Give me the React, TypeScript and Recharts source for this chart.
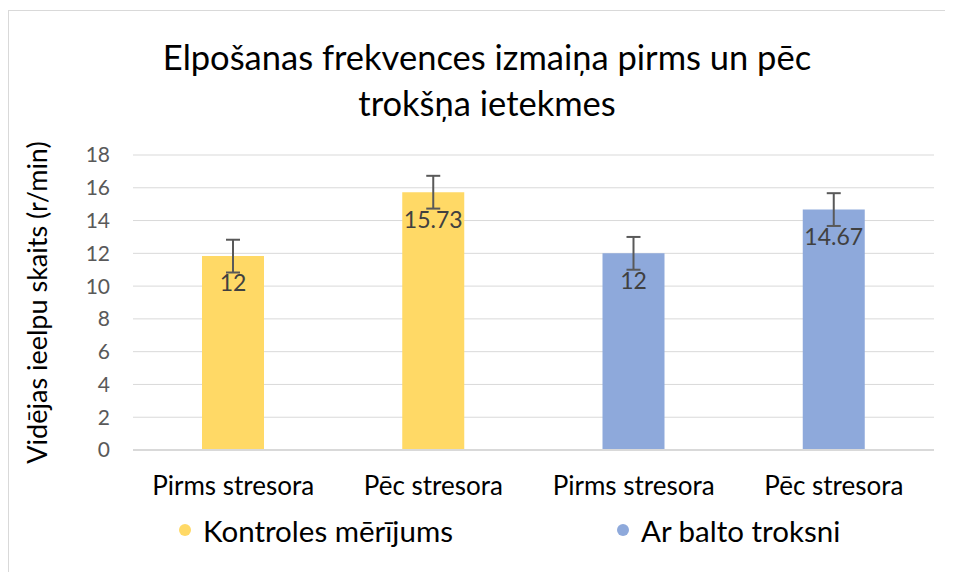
import { BarChart, Bar, XAxis, YAxis, CartesianGrid, ErrorBar, LabelList, Legend, Cell } from 'recharts';

const categories = ['Pirms stresora', 'Pēc stresora', 'Pirms stresora', 'Pēc stresora'];
const values = [11.83, 15.73, 12, 14.67];
const valueLabels = ['12', '15.73', '12', '14.67'];
const errors = [1, 1, 1, 1];
const groups = [0, 0, 1, 1];
const seriesNames = ['Kontroles mērījums', 'Ar balto troksni'];
const seriesColors = ['#FFD966', '#8EA9DB'];
const yTicks = [0, 2, 4, 6, 8, 10, 12, 14, 16, 18];

const data = categories.map((name, i) => ({
  name,
  value: values[i],
  label: valueLabels[i],
  err: errors[i],
  group: groups[i],
}));

const font = 'Lato, "Open Sans", sans-serif';

function LegendContent() {
  const lefts = [176, 614];
  return (
    <div style={{ position: 'relative', width: 940, height: 81, fontFamily: font }}>
      {seriesNames.map((n, i) => (
        <div
          key={n}
          style={{
            position: 'absolute',
            left: lefts[i] - 6,
            top: 40 - 18,
            height: 36,
            display: 'flex',
            alignItems: 'center',
            whiteSpace: 'nowrap',
          }}
        >
          <span
            style={{
              display: 'inline-block',
              width: 12,
              height: 12,
              borderRadius: 6,
              background: seriesColors[i],
              marginRight: 12,
            }}
          />
          <span style={{ fontSize: 29.5, color: '#000' }}>{n}</span>
        </div>
      ))}
    </div>
  );
}

export default function App() {
  return (
    <div
      style={{
        position: 'relative',
        top: 2,
        width: 944,
        height: 563,
        borderLeft: '1px solid #d9d9d9',
        borderTop: '1px solid #d9d9d9',
        fontFamily: font,
      }}
    >
      <div
        style={{
          position: 'absolute',
          left: 0,
          top: 23,
          width: 956,
          textAlign: 'center',
          fontSize: 34.5,
          lineHeight: '46px',
          color: '#000',
        }}
      >
        Elpošanas frekvences izmaiņa pirms un pēc
        <br />
        trokšņa ietekmes
      </div>
      <BarChart
        width={940}
        height={560}
        data={data}
        margin={{ top: 144, right: 15, left: 0, bottom: 0 }}
      >
        <CartesianGrid vertical={false} stroke="#d9d9d9" />
        <XAxis
          dataKey="name"
          height={40}
          axisLine={{ stroke: '#d9d9d9', strokeWidth: 2 }}
          tickLine={false}
          tickMargin={21}
          interval={0}
          tick={{ fill: '#000', fontSize: 26, fontFamily: font }}
        />
        <YAxis
          width={124}
          domain={[0, 18]}
          ticks={yTicks}
          axisLine={false}
          tickLine={false}
          tickMargin={17}
          tick={{ fill: '#595959', fontSize: 21, fontFamily: font }}
          label={{
            value: 'Vidējas ieelpu skaits (r/min)',
            angle: -90,
            position: 'center',
            dx: -34,
            style: { fill: '#000', fontSize: 27, fontFamily: font, textAnchor: 'middle' },
          }}
        />
        <Legend
          verticalAlign="bottom"
          height={81}
          content={() => <LegendContent />}
          wrapperStyle={{ left: 0, width: 940 }}
        />
        <Bar dataKey="value" barSize={62} isAnimationActive={false}>
          {data.map((d, i) => (
            <Cell key={i} fill={seriesColors[d.group]} />
          ))}
          <ErrorBar dataKey="err" width={7} stroke="#595959" strokeWidth={2} />
          <LabelList
            dataKey="label"
            position="insideTop"
            offset={19}
            style={{ fill: '#404040', fontSize: 23, fontFamily: font }}
          />
        </Bar>
      </BarChart>
    </div>
  );
}
